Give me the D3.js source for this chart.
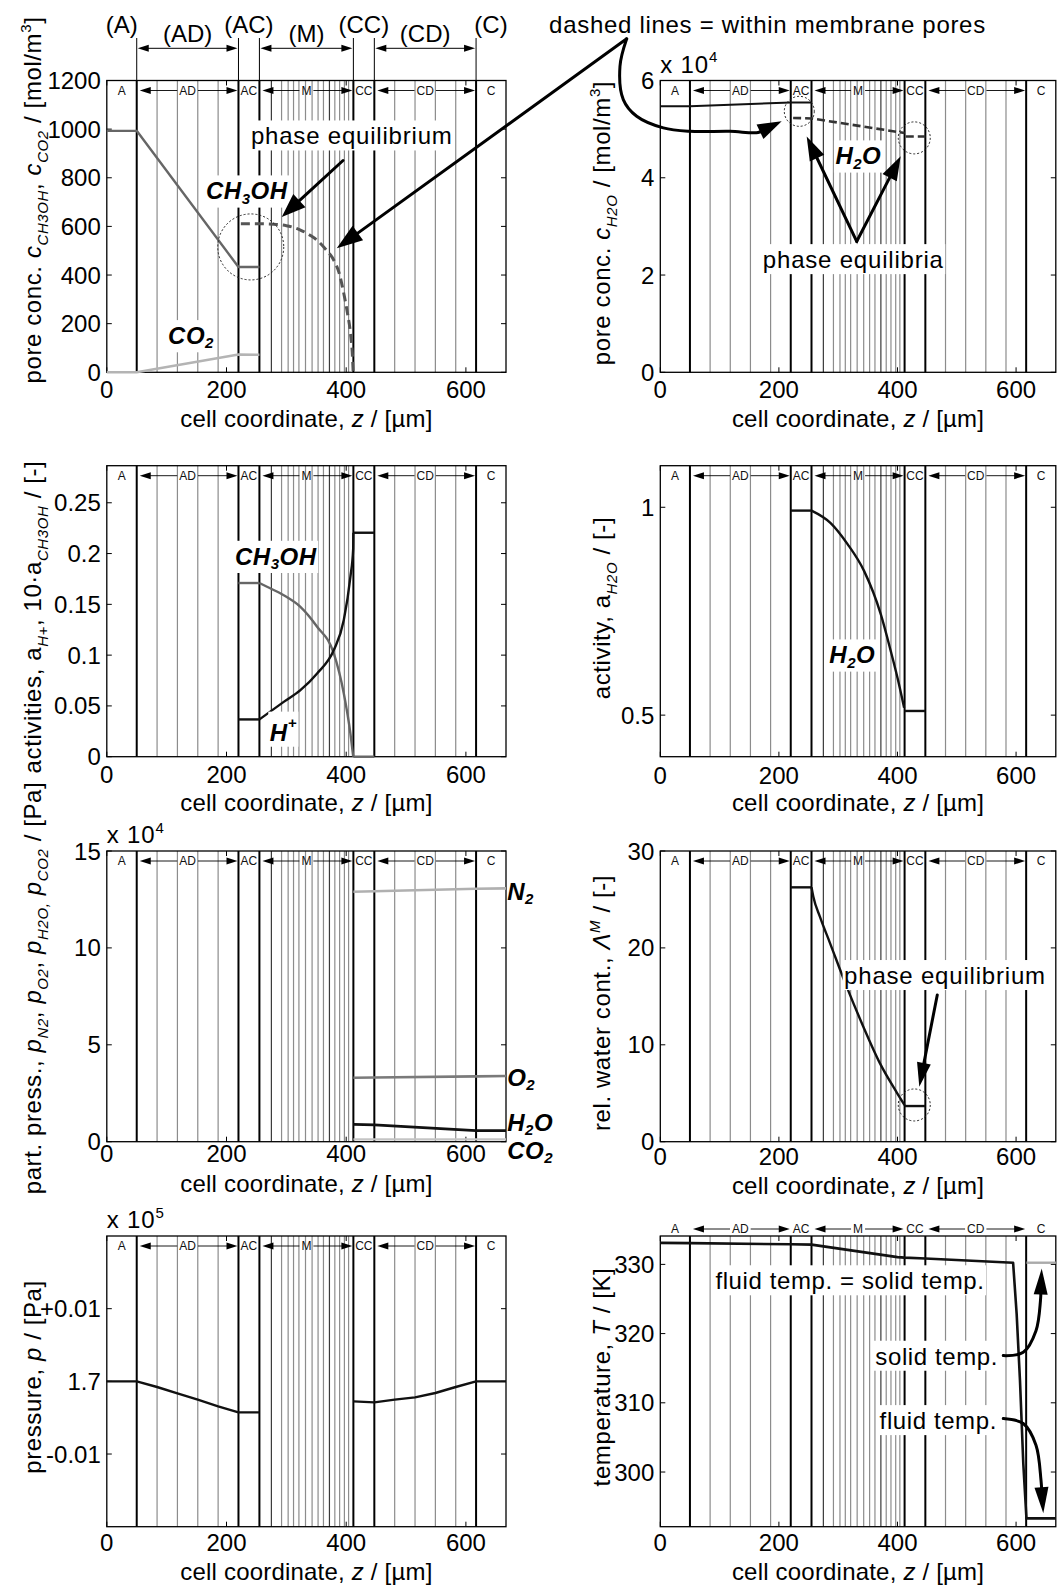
<!DOCTYPE html>
<html><head><meta charset="utf-8">
<script src="https://cdn.jsdelivr.net/npm/d3@7"></script>
<style>body{margin:0;background:#fff} svg{display:block}</style>
</head><body>
<script>
// ---------- cell geometry (µm) ----------
const zDomain = [0, 667];
const regionEdges = [0, 50, 220, 255, 412, 447, 617, 667];
const regionNames = ["A", "AD", "AC", "M", "CC", "CD", "C"];
const cellLinesAD = [84, 118, 152, 186];
const cellLinesM = [275, 292, 303, 312, 321, 332, 343, 353, 362, 372, 381, 389, 397, 404];
const cellLinesMDark = [275, 372];
const cellLinesCD = [481, 515, 549, 583];
const zTicks = [0, 200, 400, 600];

// ---------- pore concentrations CH3OH / CO2 (mol/m³) ----------
const cMeOHAnode = [[0, 993], [50, 993], [220, 433], [255, 433]];
const cCO2Anode = [[0, 0], [50, 0], [220, 73], [255, 72]];
const cMeOHPore = [[224, 611], [255, 611], [279, 609], [300, 603], [323.5, 585], [340, 563], [351.4, 543],
  [366, 505], [379.3, 461], [388, 410], [396, 324], [402, 245], [407.2, 160], [410, 85], [411.7, 0]];
const ticksConc = [0, 200, 400, 600, 800, 1000, 1200];

// ---------- pore concentration H2O (×1e4 mol/m³) ----------
const cH2OAnode = [[0, 5.47], [50, 5.47], [220, 5.55], [255, 5.55]];
const cH2OPore = [[224, 5.23], [255, 5.22], [412, 4.92]];
const cH2OPoreCC = [[414, 4.85], [447, 4.85]];
const ticksH2O = [0, 2, 4, 6];

// ---------- activities ----------
const aMeOH10AC = [[220, 0.171], [255, 0.171]];
const aMeOH10M = [[255, 0.171], [267.7, 0.1673], [295.6, 0.159], [323.5, 0.1476], [351.4, 0.128],
  [379.3, 0.1017], [396, 0.0623], [407, 0.023], [411.7, 0]];
const aMeOH10CC = [[412, 0], [447, 0]];
const aHAC = [[220, 0.0367], [255, 0.0367]];
const aHM = [[255, 0.0367], [295.6, 0.054], [323.5, 0.0656], [351.4, 0.082], [379.3, 0.105],
  [396, 0.1345], [407, 0.177], [411.7, 0.205], [412, 0.2205]];
const aHCC = [[412, 0.2205], [447, 0.2205]];
const ticksAct = [0, 0.05, 0.1, 0.15, 0.2, 0.25];
const aH2OAC = [[220, 0.992], [255, 0.992]];
const aH2OM = [[255, 0.992], [287.3, 0.962], [315.5, 0.912], [343.6, 0.847], [371.8, 0.743],
  [388.7, 0.654], [400, 0.59], [411.2, 0.518]];
const aH2OCC = [[412, 0.51], [447, 0.51]];
const ticksAw = [0.5, 1];

// ---------- partial pressures (×1e4 Pa) ----------
const pN2 = [[412, 12.9], [447, 12.92], [617, 13.05], [667, 13.07]];
const pO2 = [[412, 3.30], [447, 3.31], [617, 3.37], [667, 3.39]];
const pH2O = [[412, 0.895], [447, 0.87], [617, 0.57], [667, 0.57]];
const pCO2 = [[412, 0.12], [667, 0.12]];
const ticksPP = [0, 5, 10, 15];

// ---------- membrane water content ----------
const lambdaAC = [[220, 26.25], [255, 26.25]];
const lambdaM = [[255, 26.25], [258, 25.3], [269.3, 23.2], [286.2, 20.5], [314.3, 16.0],
  [342.4, 11.87], [370.5, 8.08], [398.6, 5.1], [412, 3.78]];
const lambdaCC = [[412, 3.68], [447, 3.68]];
const ticksLam = [0, 10, 20, 30];

// ---------- total pressure (×1e5 Pa) ----------
const pAnode = [[0, 1.7], [50, 1.7], [84, 1.69922], [118, 1.69835], [152, 1.69748], [186, 1.69656],
  [220, 1.69573], [255, 1.69573]];
const pCathode = [[412, 1.69725], [447, 1.69711], [481, 1.69748], [515, 1.6978], [549, 1.6984],
  [583, 1.69922], [617, 1.7], [667, 1.7]];
const ticksP = [1.69, 1.70, 1.71];
const tickLabelsP = ["-0.01", "1.7", "+0.01"];

// ---------- temperatures (K) ----------
const tempFluid = [[0, 333.1], [50, 333.07], [220, 332.9], [255, 332.85], [400, 331.05], [412, 330.98],
  [447, 330.85], [595, 330.24], [601, 322.8], [606.6, 313.2], [612.2, 301.2], [617.5, 293.3], [667, 293.3]];
const tempSolid = [[617.5, 330.24], [667, 330.24]];
const ticksT = [300, 310, 320, 330];

// ---------- figure ----------
const W = 1064, H = 1585;
const FONT = "'Liberation Sans', Arial, Helvetica, sans-serif";
const FS = 24;
const svg = d3.select("body").append("svg").attr("width", W).attr("height", H)
  .attr("font-family", FONT).style("background", "#fff");

const colX = [[106.8, 506], [660.3, 1055.8]];
const rowY = [[80.5, 372.3], [465.7, 756.7], [851, 1141.7], [1236, 1526.7]];

function richText(sel, segs, size) {
  const small = Math.round(size * 0.64);
  let shift = 0;
  segs.forEach(s => {
    const seg = typeof s === "string" ? { t: s } : s;
    const target = seg.sub ? size * 0.3 : seg.sup ? -size * 0.42 : 0;
    const ts = sel.append("tspan").text(seg.t).attr("dy", (target - shift).toFixed(2));
    shift = target;
    if (seg.sub || seg.sup) ts.attr("font-size", small);
    if (seg.i) ts.attr("font-style", "italic");
  });
  return sel;
}

function boxedText(g, px, py, segs, o = {}) {
  const size = o.size || FS;
  const t = g.append("text").attr("x", px).attr("y", py)
    .attr("text-anchor", o.anchor || "middle").attr("dominant-baseline", "central")
    .attr("font-size", size).attr("letter-spacing", o.ls != null ? o.ls : 0.6);
  if (o.bold) t.attr("font-weight", "bold").attr("font-style", "italic");
  richText(t, segs, size);
  if (o.bg !== false) {
    const b = t.node().getBBox(), pad = o.pad != null ? o.pad : 1.5;
    g.insert("rect", () => t.node()).attr("x", b.x - pad).attr("y", b.y - pad)
      .attr("width", b.width + 2 * pad).attr("height", b.height + 2 * pad).attr("fill", "#fff");
  }
  return t;
}

function arrow(g, pts, o = {}) {
  const head = o.head || 22, hw = o.hw || 8;
  const n = pts.length, tip = pts[n - 1], prev = pts[n - 2];
  const dx = tip[0] - prev[0], dy = tip[1] - prev[1], L = Math.hypot(dx, dy);
  const ux = dx / L, uy = dy / L;
  const base = [tip[0] - ux * head * 0.8, tip[1] - uy * head * 0.8];
  const hb = [tip[0] - ux * head, tip[1] - uy * head];
  const shaft = pts.slice(0, n - 1).concat([base]);
  g.append("path").attr("d", d3.line().curve(o.curve ? d3.curveCatmullRom.alpha(0.5) : d3.curveLinear)(shaft))
    .attr("fill", "none").attr("stroke", "#000").attr("stroke-width", o.w || 3).attr("stroke-linecap", "round");
  g.append("path")
    .attr("d", `M${tip[0]},${tip[1]}L${hb[0] - uy * hw},${hb[1] + ux * hw}L${hb[0] + uy * hw},${hb[1] - ux * hw}Z`)
    .attr("fill", "#000");
}

function dottedCircle(g, c, r) {
  g.append("circle").attr("cx", c[0]).attr("cy", c[1]).attr("r", r)
    .attr("fill", "none").attr("stroke", "#222").attr("stroke-width", 1).attr("stroke-dasharray", "2,2");
}

function regionBar(g, x, yc) {
  const mid = i => (x(regionEdges[i]) + x(regionEdges[i + 1])) / 2;
  regionNames.forEach((name, i) => {
    const t = g.append("text").attr("x", mid(i)).attr("y", yc).attr("text-anchor", "middle")
      .attr("dominant-baseline", "central").attr("font-size", 12).attr("fill", "#111").text(name);
    if (i % 2 === 1) {
      const w = t.node().getComputedTextLength();
      const l = x(regionEdges[i]) + 3, r = x(regionEdges[i + 1]) - 1, c = mid(i);
      g.append("line").attr("x1", l + 8).attr("x2", c - w / 2 - 2).attr("y1", yc).attr("y2", yc)
        .attr("stroke", "#000").attr("stroke-width", 0.9);
      g.append("line").attr("x1", c + w / 2 + 2).attr("x2", r - 8).attr("y1", yc).attr("y2", yc)
        .attr("stroke", "#000").attr("stroke-width", 0.9);
      g.append("path").attr("d", `M${l},${yc}L${l + 11},${yc - 3.5}L${l + 11},${yc + 3.5}Z`).attr("fill", "#000");
      g.append("path").attr("d", `M${r},${yc}L${r - 11},${yc - 3.5}L${r - 11},${yc + 3.5}Z`).attr("fill", "#000");
    }
  });
}

function panel(o) {
  const [xa, xb] = colX[o.col], [ya, yb] = rowY[o.row];
  const x = d3.scaleLinear().domain(zDomain).range([xa, xb]);
  const y = d3.scaleLinear().domain(o.yDomain).range([yb, ya]);
  const g = svg.append("g");
  const thin = cellLinesAD.concat(cellLinesM, cellLinesCD);
  g.selectAll("line.cell").data(thin).join("line").attr("class", "cell")
    .attr("x1", d => x(d)).attr("x2", d => x(d)).attr("y1", ya).attr("y2", yb)
    .attr("stroke", d => cellLinesMDark.includes(d) ? "#3a3a3a" : "#8c8c8c").attr("stroke-width", 1.2);
  g.selectAll("line.edge").data(regionEdges.slice(1, -1)).join("line").attr("class", "edge")
    .attr("x1", d => x(d)).attr("x2", d => x(d)).attr("y1", ya).attr("y2", yb)
    .attr("stroke", "#000").attr("stroke-width", 2);
  g.append("rect").attr("x", xa).attr("y", ya).attr("width", xb - xa).attr("height", yb - ya)
    .attr("fill", "none").attr("stroke", "#000").attr("stroke-width", 1.3);
  // ticks
  zTicks.forEach(t => {
    g.append("line").attr("x1", x(t)).attr("x2", x(t)).attr("y1", yb).attr("y2", yb - 5).attr("stroke", "#000");
    g.append("line").attr("x1", x(t)).attr("x2", x(t)).attr("y1", ya).attr("y2", ya + 5).attr("stroke", "#000");
    g.append("text").attr("x", x(t)).attr("y", o.xTickY).attr("text-anchor", "middle")
      .attr("dominant-baseline", "central").attr("font-size", FS).text(t);
  });
  o.yTicks.forEach((t, i) => {
    g.append("line").attr("x1", xa).attr("x2", xa + 5).attr("y1", y(t)).attr("y2", y(t)).attr("stroke", "#000");
    g.append("line").attr("x1", xb).attr("x2", xb - 5).attr("y1", y(t)).attr("y2", y(t)).attr("stroke", "#000");
    g.append("text").attr("x", xa - 6).attr("y", y(t)).attr("text-anchor", "end")
      .attr("dominant-baseline", "central").attr("font-size", FS)
      .text(o.yLabels ? o.yLabels[i] : String(t));
  });
  // axis titles
  g.append("text").attr("x", (xa + xb) / 2).attr("y", o.xTitleY).attr("text-anchor", "middle")
    .attr("dominant-baseline", "central").attr("font-size", FS).attr("letter-spacing", 0.2)
    .call(s => richText(s, ["cell coordinate, ", { t: "z", i: 1 }, " / [µm]"], FS));
  g.append("text").attr("transform", `translate(${o.yTitleX},${o.yTitleY}) rotate(-90)`)
    .attr("text-anchor", "middle").attr("font-size", FS).attr("letter-spacing", 0.6)
    .call(s => richText(s, o.yTitle, FS));
  if (o.exp) {
    g.append("text").attr("x", xa).attr("y", ya - 8).attr("font-size", FS).attr("letter-spacing", 0.8)
      .call(s => richText(s, ["x 10", { t: o.exp, sup: 1 }], FS));
  }
  regionBar(g, x, o.barDy < 0 ? ya + o.barDy : ya + 10);
  const P = (z, v) => [x(z), y(v)];
  return { g, x, y, P };
}

function drawLine(pn, data, color, width, dash, curved) {
  const gen = d3.line().x(d => pn.x(d[0])).y(d => pn.y(d[1]));
  if (curved) gen.curve(d3.curveMonotoneX);
  const p = pn.g.append("path").attr("d", gen(data)).attr("fill", "none")
    .attr("stroke", color).attr("stroke-width", width).attr("stroke-linejoin", "round");
  if (dash) p.attr("stroke-dasharray", dash);
}

// ================= panels =================
const p1 = panel({ col: 0, row: 0, yDomain: [0, 1200], yTicks: ticksConc, xTickY: 389, xTitleY: 418,
  yTitleX: 41, yTitleY: 200,
  yTitle: ["pore conc. ", { t: "c", i: 1 }, { t: "CH3OH", sub: 1, i: 1 }, ", ", { t: "c", i: 1 },
    { t: "CO2", sub: 1, i: 1 }, " / [mol/m", { t: "3", sup: 1 }, "]"] });
const p2 = panel({ col: 1, row: 0, yDomain: [0, 6], yTicks: ticksH2O, xTickY: 389, xTitleY: 418,
  yTitleX: 610, yTitleY: 223, exp: "4",
  yTitle: ["pore conc. ", { t: "c", i: 1 }, { t: "H2O", sub: 1, i: 1 }, " / [mol/m", { t: "3", sup: 1 }, "]"] });
const p3 = panel({ col: 0, row: 1, yDomain: [0, 0.2865], yTicks: ticksAct, xTickY: 774, xTitleY: 802,
  yTitleX: 41, yTitleY: 617,
  yTitle: ["activities, a", { t: "H+", sub: 1, i: 1 }, ", 10·a", { t: "CH3OH", sub: 1, i: 1 }, " / [-]"] });
const p4 = panel({ col: 1, row: 1, yDomain: [0.4, 1.1], yTicks: ticksAw, xTickY: 775, xTitleY: 802,
  yTitleX: 610, yTitleY: 608,
  yTitle: ["activity, a", { t: "H2O", sub: 1, i: 1 }, " / [-]"] });
const p5 = panel({ col: 0, row: 2, yDomain: [0, 15], yTicks: ticksPP, xTickY: 1153, xTitleY: 1183,
  yTitleX: 41, yTitleY: 988, exp: "4",
  yTitle: ["part. press., ", { t: "p", i: 1 }, { t: "N2", sub: 1, i: 1 }, ", ", { t: "p", i: 1 },
    { t: "O2", sub: 1, i: 1 }, ", ", { t: "p", i: 1 }, { t: "H2O,", sub: 1, i: 1 }, " ", { t: "p", i: 1 },
    { t: "CO2", sub: 1, i: 1 }, " / [Pa]"] });
const p6 = panel({ col: 1, row: 2, yDomain: [0, 30], yTicks: ticksLam, xTickY: 1156, xTitleY: 1185,
  yTitleX: 610, yTitleY: 1003,
  yTitle: ["rel. water cont., ", { t: "Λ", i: 1 }, { t: "M", sup: 1, i: 1 }, " / [-]"] });
const p7 = panel({ col: 0, row: 3, yDomain: [1.68, 1.72], yTicks: ticksP, yLabels: tickLabelsP,
  xTickY: 1542, xTitleY: 1571, yTitleX: 41, yTitleY: 1377, exp: "5",
  yTitle: ["pressure, ", { t: "p", i: 1 }, " / [Pa]"] });
const p8 = panel({ col: 1, row: 3, yDomain: [292.1, 334.1], yTicks: ticksT, xTickY: 1542, xTitleY: 1571,
  yTitleX: 610, yTitleY: 1377, barDy: -7,
  yTitle: ["temperature, ", { t: "T", i: 1 }, " / [K]"] });

// ---- layer names above the first panel ----
(function () {
  const g = svg.append("g"), x = p1.x, yArrow = 48.3;
  const lbl = ["(A)", "(AD)", "(AC)", "(M)", "(CC)", "(CD)", "(C)"];
  regionNames.forEach((n, i) => {
    const c = (x(regionEdges[i]) + x(regionEdges[i + 1])) / 2;
    g.append("text").attr("x", c).attr("y", i % 2 ? 33 : 24).attr("text-anchor", "middle")
      .attr("dominant-baseline", "central").attr("font-size", FS).text(lbl[i]);
  });
  regionEdges.slice(1, -1).forEach(e => {
    g.append("line").attr("x1", x(e)).attr("x2", x(e)).attr("y1", 38).attr("y2", rowY[0][0])
      .attr("stroke", "#000").attr("stroke-width", 1);
  });
  [1, 3, 5].forEach(i => {
    const l = x(regionEdges[i]) + 1, r = x(regionEdges[i + 1]) - 1;
    g.append("line").attr("x1", l + 6).attr("x2", r - 6).attr("y1", yArrow).attr("y2", yArrow)
      .attr("stroke", "#000").attr("stroke-width", 1);
    g.append("path").attr("d", `M${l},${yArrow}L${l + 11},${yArrow - 3.5}L${l + 11},${yArrow + 3.5}Z`);
    g.append("path").attr("d", `M${r},${yArrow}L${r - 11},${yArrow - 3.5}L${r - 11},${yArrow + 3.5}Z`);
  });
})();

// ---- panel 1: pore concentrations CH3OH / CO2 ----
drawLine(p1, cCO2Anode, "#b4b4b4", 2.4);
drawLine(p1, cMeOHAnode, "#666", 2.4);
drawLine(p1, cMeOHPore, "#555", 3, "9,5", true);
dottedCircle(p1.g, p1.P(240.5, 515.6), 33);
boxedText(p1.g, ...p1.P(233.8, 748), ["CH", { t: "3", sub: 1 }, "OH"], { bold: 1, ls: 0.5 });
boxedText(p1.g, ...p1.P(140.7, 153), ["CO", { t: "2", sub: 1 }], { bold: 1, ls: 0.5 });
boxedText(p1.g, ...p1.P(409.3, 974), ["phase equilibrium"], { ls: 0.8 });
arrow(p1.g, [p1.P(394.7, 871), p1.P(292.3, 638.7)], { head: 24, hw: 9 });

// ---- panel 2: pore concentration H2O ----
drawLine(p2, cH2OAnode, "#111", 2);
drawLine(p2, cH2OPore, "#333", 2.6, "8,4");
drawLine(p2, cH2OPoreCC, "#333", 2.6, "8,4");
dottedCircle(p2.g, p2.P(234.4, 5.366), 15);
dottedCircle(p2.g, p2.P(428.3, 4.82), 16);
boxedText(p2.g, ...p2.P(334, 4.46), ["H", { t: "2", sub: 1 }, "O"], { bold: 1, ls: 0.5 });
boxedText(p2.g, ...p2.P(325.5, 2.327), ["phase equilibria"], { ls: 0.8 });
arrow(p2.g, [p2.P(331.2, 2.69), p2.P(246.9, 4.85)], { head: 24, hw: 8 });
arrow(p2.g, [p2.P(331.2, 2.69), p2.P(405.4, 4.44)], { head: 24, hw: 8 });

// ---- note on dashed lines, shared by the two upper panels ----
svg.append("text").attr("x", 767.5).attr("y", 24).attr("text-anchor", "middle")
  .attr("dominant-baseline", "central").attr("font-size", FS).attr("letter-spacing", 0.7)
  .text("dashed lines = within membrane pores");
arrow(svg, [p2.P(-56.7, 6.857), p1.P(384.2, 510)], { head: 26, hw: 9 });
arrow(svg, [p2.P(-56.7, 6.857), p2.P(-68, 6.293), p2.P(-62.4, 5.607), p2.P(-39.8, 5.264), p2.P(5.1, 5.025),
  p2.P(50.1, 4.955), p2.P(117.5, 4.955), p2.P(165, 4.93), p2.P(204.7, 5.16)], { head: 24, hw: 8, curve: 1 });

// ---- panel 3: activities ----
drawLine(p3, aMeOH10AC, "#666", 2.4);
drawLine(p3, aMeOH10M, "#666", 2.4, null, true);
drawLine(p3, aMeOH10CC, "#666", 2.4);
drawLine(p3, aHAC, "#111", 2.4);
drawLine(p3, aHM, "#111", 2.4, null, true);
drawLine(p3, aHCC, "#111", 2.4);
boxedText(p3.g, ...p3.P(282.3, 0.1978), ["CH", { t: "3", sub: 1 }, "OH"], { bold: 1, ls: 0.5 });
boxedText(p3.g, ...p3.P(295, 0.0246), ["H", { t: "+", sup: 1 }], { bold: 1, ls: 0.5 });

// ---- panel 4: water activity ----
drawLine(p4, aH2OAC, "#111", 2.4);
drawLine(p4, aH2OM, "#111", 2.4, null, true);
drawLine(p4, aH2OCC, "#111", 2.4);
boxedText(p4.g, ...p4.P(323.8, 0.646), ["H", { t: "2", sub: 1 }, "O"], { bold: 1, ls: 0.5 });

// ---- panel 5: partial pressures ----
drawLine(p5, pCO2, "#c4c4c4", 2.4);
drawLine(p5, pN2, "#b0b0b0", 2.6);
drawLine(p5, pO2, "#7a7a7a", 2.6);
drawLine(p5, pH2O, "#111", 2.6);
[["N", "2", "", 12.95], ["O", "2", "", 3.35], ["H", "2", "O", 1.03], ["CO", "2", "", -0.43]].forEach(d => {
  boxedText(p5.g, ...p5.P(669, d[3]), [d[0], { t: d[1], sub: 1 }, d[2]],
    { bold: 1, ls: 0.5, anchor: "start", bg: false });
});

// ---- panel 6: membrane water content ----
drawLine(p6, lambdaAC, "#111", 2.4);
drawLine(p6, lambdaM, "#111", 2.4, null, true);
drawLine(p6, lambdaCC, "#111", 2.4);
dottedCircle(p6.g, p6.P(428.3, 3.79), 16);
boxedText(p6.g, ...p6.P(480.1, 17.2), ["phase equilibrium"], { ls: 0.8 });
arrow(p6.g, [p6.P(467.1, 15.14), p6.P(436.8, 5.68)], { head: 24, hw: 7 });

// ---- panel 7: pressure ----
drawLine(p7, pAnode, "#111", 2.4);
drawLine(p7, pCathode, "#111", 2.4);

// ---- panel 8: temperatures ----
drawLine(p8, tempSolid, "#aaa", 2.4);
drawLine(p8, tempFluid, "#111", 2.6);
boxedText(p8.g, ...p8.P(319.9, 327.7), ["fluid temp. = solid temp."]);
boxedText(p8.g, ...p8.P(466.1, 316.8), ["solid temp."]);
boxedText(p8.g, ...p8.P(468.8, 307.5), ["fluid temp."]);
arrow(p8.g, [p8.P(578.4, 316.82), p8.P(612.1, 317.29), p8.P(633.6, 320.41), p8.P(641.1, 324.72),
  p8.P(643.2, 329.4)], { head: 26, hw: 7, curve: 1 });
arrow(p8.g, [p8.P(578.4, 307.72), p8.P(612.1, 307.0), p8.P(633.6, 303.88), p8.P(642, 298.85),
  p8.P(645.9, 294.06)], { head: 26, hw: 7, curve: 1 });
</script>
</body></html>
